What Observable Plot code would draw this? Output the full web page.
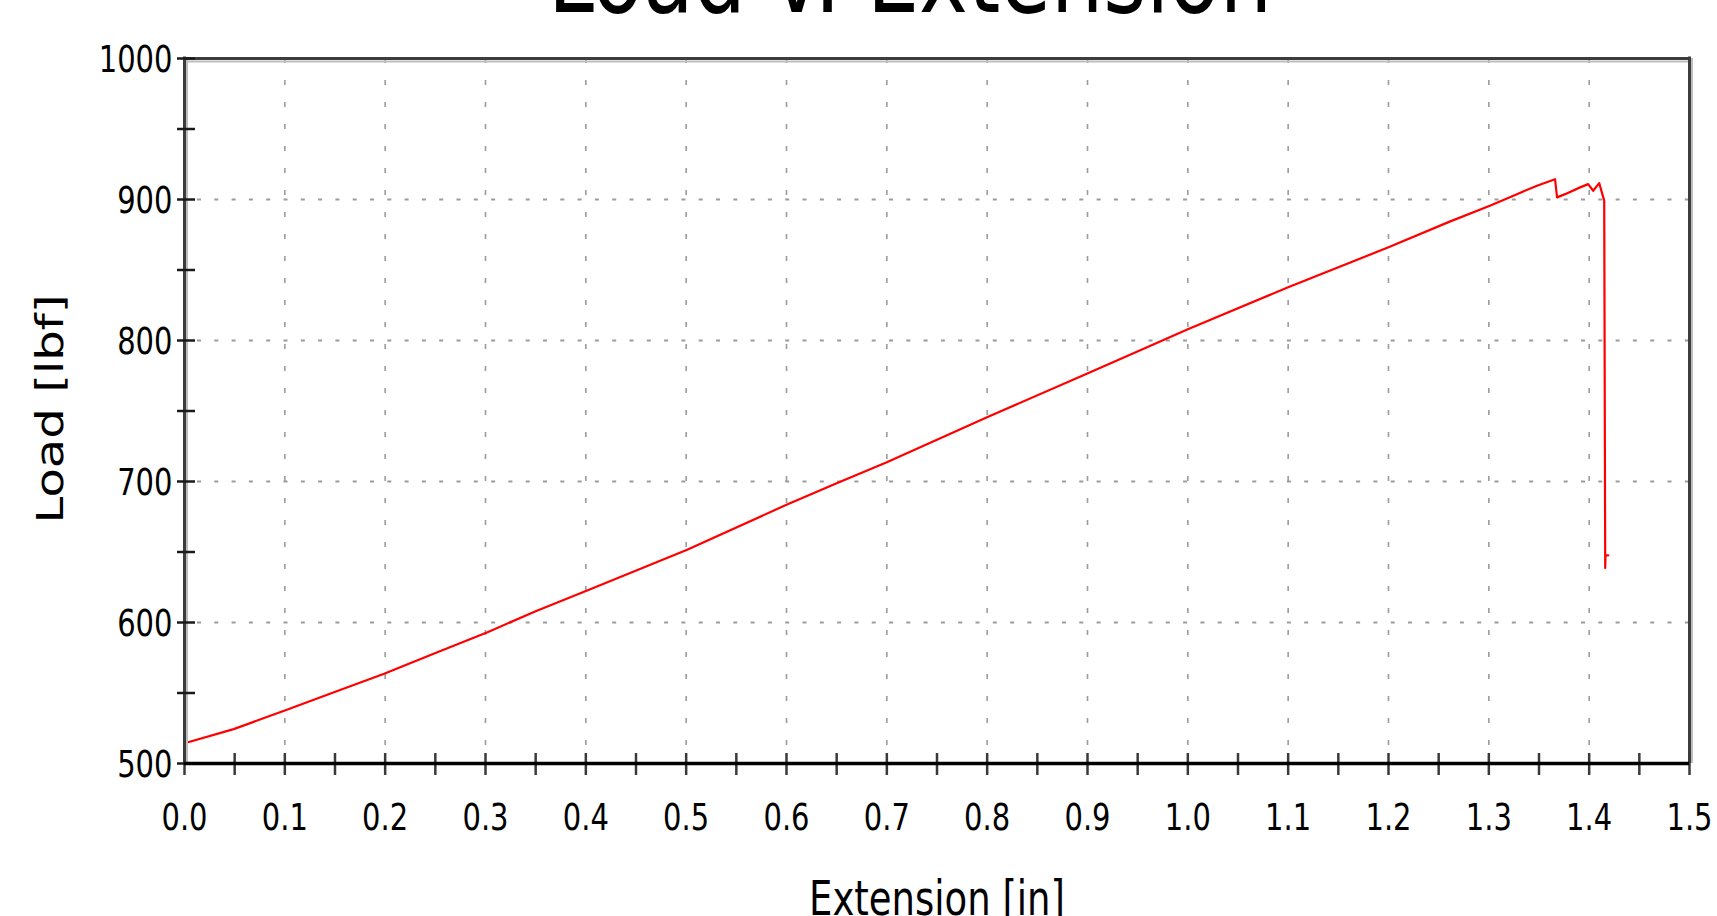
<!DOCTYPE html>
<html><head><meta charset="utf-8">
<script src="https://cdn.jsdelivr.net/npm/d3@7"></script>
<script src="https://cdn.jsdelivr.net/npm/@observablehq/plot@0.6"></script>
<style>
html,body{margin:0;padding:0;background:#fff;overflow:hidden;}
#chart{position:relative;width:1717px;height:916px;}
</style></head><body><div id="chart"></div>
<script>
const titleText = "Load v. Extension";
const xLabel = "Extension [in]";
const yLabel = "Load [lbf]";

// Extension [in] and Load [lbf]
const extension = [0, 0.049, 0.1, 0.149, 0.199, 0.252, 0.302, 0.35, 0.405,
  0.501, 0.6, 0.65, 0.70, 0.801, 0.901, 0.956, 1.0, 1.1, 1.2,
  1.261, 1.301, 1.328, 1.348, 1.366, 1.368, 1.376, 1.391, 1.399, 1.404, 1.41, 1.415,
  1.416, 1.4163, 1.419];
const load = [514.4, 524.4, 537.6, 550.5, 563.6, 578.9, 593.1, 608.0, 623.8,
  651.6, 683.5, 698.8, 713.6, 745.9, 777.0, 794.2, 807.9, 837.8, 866.1,
  884.3, 895.6, 903.8, 909.8, 914.4, 901.5, 903.8, 908.6, 910.9, 906.2, 911.6, 899.2,
  638.6, 647.6, 647.6];

const xDomain = [0, 1.5];
const yDomain = [500, 1000];
const xTickLabels = [0, 0.1, 0.2, 0.3, 0.4, 0.5, 0.6, 0.7, 0.8, 0.9, 1.0, 1.1, 1.2, 1.3, 1.4, 1.5];
const xMinorTicks = [0, 0.05, 0.1, 0.15, 0.2, 0.25, 0.3, 0.35, 0.4, 0.45, 0.5, 0.55, 0.6, 0.65, 0.7, 0.75,
  0.8, 0.85, 0.9, 0.95, 1.0, 1.05, 1.1, 1.15, 1.2, 1.25, 1.3, 1.35, 1.4, 1.45, 1.5];
const yTickLabels = [500, 600, 700, 800, 900, 1000];
const yMinorTicks = [500, 550, 600, 650, 700, 750, 800, 850, 900, 950, 1000];
const xGrid = [0.1, 0.2, 0.3, 0.4, 0.5, 0.6, 0.7, 0.8, 0.9, 1.0, 1.1, 1.2, 1.3, 1.4];
const yGrid = [600, 700, 800, 900];

const data = extension.map((x, i) => ({x, y: load[i]}));

const W = 1717, H = 916, mL = 184, mR = 28, mT = 58, mB = 153;
const innerW = W - mL - mR, innerH = H - mT - mB;
const SY = 1.3;

const chart = Plot.plot({
  width: W, height: H,
  marginLeft: mL, marginRight: mR, marginTop: mT, marginBottom: mB,
  x: {domain: xDomain, axis: null},
  y: {domain: yDomain, axis: null},
  style: {fontFamily: "'DejaVu Sans', sans-serif", fontSize: "29px", color: "#000", background: "#fff", overflow: "visible"},
  marks: [
    Plot.gridX(xGrid, {stroke: "#9c9c9c", strokeOpacity: 1, strokeWidth: 1.6, strokeDasharray: "5,17"}),
    Plot.gridY(yGrid, {stroke: "#9c9c9c", strokeOpacity: 1, strokeWidth: 2, strokeDasharray: "4,13.3", strokeDashoffset: 4.3}),
    Plot.line(data, {x: "x", y: "y", stroke: "#ff0000", strokeWidth: 2.2}),
    // frame shadows
    Plot.ruleX([xDomain[0]], {stroke: "#bdbdbd", strokeWidth: 2, dx: 2.5}),
    Plot.ruleX([xDomain[1]], {stroke: "#bdbdbd", strokeWidth: 2, dx: 2.5}),
    Plot.ruleY([yDomain[1]], {stroke: "#bdbdbd", strokeWidth: 2, dy: 3}),
    // frame
    Plot.ruleX([xDomain[0]], {stroke: "#3c3c3c", strokeWidth: 3, insetTop: -1.5}),
    Plot.ruleX([xDomain[1]], {stroke: "#3c3c3c", strokeWidth: 3, insetTop: -1.5}),
    Plot.ruleY([yDomain[1]], {stroke: "#3c3c3c", strokeWidth: 3}),
    // ticks crossing the axes
    Plot.tickX(xMinorTicks, {x: d => d, stroke: "#3a3a3a", strokeWidth: 2.5, insetTop: innerH - 10, insetBottom: -12}),
    Plot.tickY(yMinorTicks, {y: d => d, stroke: "#1a1a1a", strokeWidth: 2.5, insetLeft: -7, insetRight: innerW - 11}),
    Plot.ruleY([yDomain[0]], {stroke: "#000", strokeWidth: 3.5}),
    // tick labels
    Plot.text(xTickLabels, {x: d => d, text: d => d3.format(".1f")(d), frameAnchor: "bottom", lineAnchor: "middle", textAnchor: "middle", dy: 53.75, fill: "#000"}),
    Plot.text(yTickLabels, {y: d => d, text: d => String(d), frameAnchor: "left", lineAnchor: "middle", textAnchor: "end", dx: -12, dy: 1.5, fill: "#000"}),
    // axis labels and title
    Plot.text([xLabel], {frameAnchor: "bottom", lineAnchor: "middle", textAnchor: "middle", dy: 136.4, fontSize: 37, fill: "#000"}),
    Plot.text([yLabel], {frameAnchor: "left", lineAnchor: "middle", textAnchor: "middle", rotate: -90, dx: -133, dy: -2, fontSize: 37, fill: "#000"}),
    Plot.text([titleText], {frameAnchor: "top", lineAnchor: "middle", textAnchor: "middle", dx: -27, dy: -82, fontSize: 82.5, fill: "#000"})
  ]
});

document.getElementById("chart").appendChild(chart);

// The reference's lettering is stretched vertically (page y); reproduce it by
// scaling every text about the centre of its own box, in its parent's coordinates.
const NS = "http://www.w3.org/2000/svg";
Array.from(chart.querySelectorAll("text")).forEach(t => {
  const g = document.createElementNS(NS, "g");
  t.parentNode.insertBefore(g, t);
  g.appendChild(t);
  const b = g.getBBox();
  const cx = b.x + b.width / 2, cy = b.y + b.height / 2;
  g.setAttribute("transform", `translate(${cx},${cy}) scale(1,${SY}) translate(${-cx},${-cy})`);
});
</script></body></html>
